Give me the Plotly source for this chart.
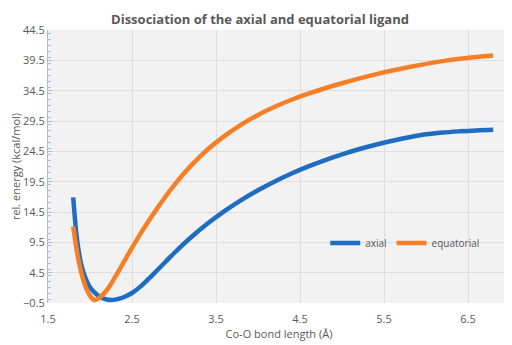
import plotly.graph_objects as go

# Axial ligand dissociation curve
axial_x = [1.80, 1.85, 1.90, 1.95, 2.00, 2.05, 2.10, 2.15, 2.20, 2.25, 2.30, 2.40, 2.50, 2.60,
           2.70, 2.80, 2.90, 3.00, 3.20, 3.40, 3.60, 3.80, 4.00, 4.20, 4.40, 4.60, 4.80, 5.00,
           5.20, 5.40, 5.60, 5.80, 6.00, 6.20, 6.40, 6.60, 6.80]
axial_y = [16.9, 9.5, 5.6, 3.5, 2.1, 1.3, 0.7, 0.3, 0.08, 0.0, 0.06, 0.45, 1.15, 2.2,
           3.5, 4.9, 6.3, 7.7, 10.3, 12.6, 14.65, 16.47, 18.09, 19.54, 20.84, 22.01, 23.06, 24.0,
           24.84, 25.59, 26.25, 26.83, 27.3, 27.6, 27.8, 27.95, 28.05]

# Equatorial ligand dissociation curve
equatorial_x = [1.80, 1.85, 1.90, 1.95, 2.00, 2.05, 2.10, 2.20, 2.30, 2.40, 2.50, 2.60, 2.70,
                2.80, 2.90, 3.00, 3.20, 3.40, 3.60, 3.80, 4.00, 4.20, 4.40, 4.60, 4.80, 5.00,
                5.20, 5.40, 5.60, 5.80, 6.00, 6.20, 6.40, 6.60, 6.80]
equatorial_y = [12.1, 7.6, 4.3, 2.1, 0.7, 0.0, 0.25, 1.6, 3.8, 6.2, 8.6, 10.9, 13.05,
                15.1, 17.05, 18.9, 22.1, 24.8, 27.0, 28.9, 30.5, 31.85, 33.0, 34.0, 34.9, 35.72,
                36.48, 37.18, 37.82, 38.4, 38.92, 39.37, 39.75, 40.05, 40.3]

series_names = ["axial", "equatorial"]
series_colors = ["#1f6dc2", "#f57f27"]

fig = go.Figure()
for name, xs, ys, col in zip(series_names, [axial_x, equatorial_x], [axial_y, equatorial_y], series_colors):
    fig.add_trace(go.Scatter(
        x=xs, y=ys, name=name, mode="lines",
        line=dict(color=col, width=4.5, shape="spline", smoothing=1.0),
    ))

font_family = "Open Sans, Noto Sans, sans-serif"
grey = "#595959"

# page body has an 8px margin, so the figure is sized to fit the 512x345 window
fig.update_layout(
    width=504, height=337,
    margin=dict(l=40, r=2, t=22, b=42),
    paper_bgcolor="white",
    plot_bgcolor="#f2f2f2",
    font=dict(family=font_family, color=grey, size=11),
    title=dict(text="<b>Dissociation of the axial and equatorial ligand</b>",
               x=0.5, xanchor="center", y=0.98, yanchor="top", pad=dict(t=0, b=0),
               font=dict(size=13, color=grey)),
    showlegend=True,
    legend=dict(orientation="h", x=0.6, y=0.22, xanchor="left", yanchor="middle",
                bgcolor="rgba(0,0,0,0)", font=dict(size=10, color=grey),
                itemwidth=30, tracegroupgap=0),
)

fig.update_xaxes(
    range=[1.5, 7.0], tick0=1.5, dtick=1, tickformat=".1f",
    showgrid=True, gridcolor="#dedede", gridwidth=1,
    zeroline=False, showline=False, automargin=False,
    ticks="outside", ticklen=6, tickcolor="rgba(0,0,0,0)",
    tickfont=dict(size=11, color=grey),
    title=dict(text="Co-O bond length (Å)", font=dict(size=11, color=grey), standoff=2),
)
fig.update_yaxes(
    range=[-0.5, 44.5], tick0=-0.5, dtick=5, tickformat=".1f",
    showgrid=True, gridcolor="#dedede", gridwidth=1,
    zeroline=False, showline=True, linecolor="#a9bed6", linewidth=1, automargin=False,
    ticks="inside", ticklen=4, tickcolor="#a9bed6",
    minor=dict(dtick=1, ticks="inside", ticklen=3, tickcolor="#a9bed6", showgrid=False),
    tickfont=dict(size=11, color=grey),
    title=dict(text="rel. energy (kcal/mol)", font=dict(size=11, color=grey), standoff=4),
)

fig.write_html("out.html")
